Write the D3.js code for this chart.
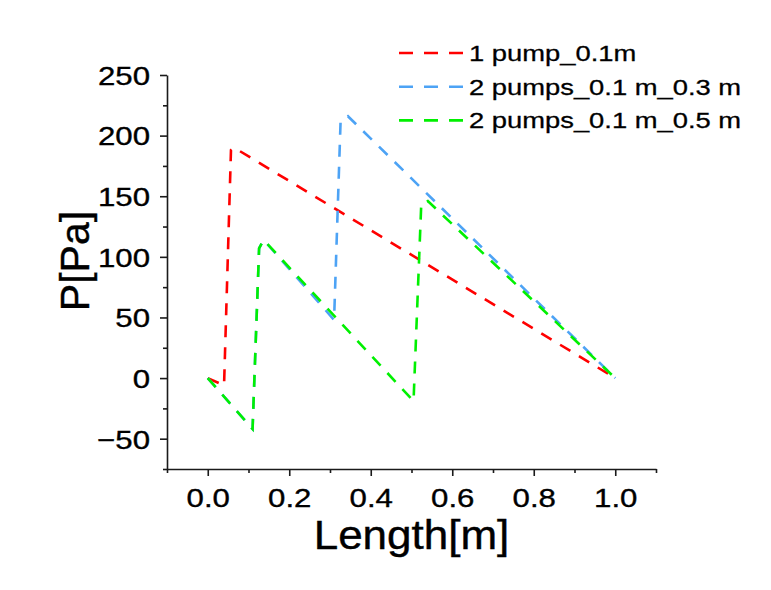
<!DOCTYPE html>
<html>
<head>
<meta charset="utf-8">
<script src="https://cdn.jsdelivr.net/npm/d3@7"></script>
<style>
    body { margin: 0; background: #fff; }
    text { font-family: "Liberation Sans", Arial, sans-serif; fill: #000; }
</style>
</head>
<body>
<div id="chart"></div>
<script>
'use strict';

// values
let redX = [0, 0.04, 0.057, 0.065, 1.0];
let redY = [0, -6, 188, 190, 0];

let blueX = [0, 0.11, 0.126, 0.137, 0.31, 0.326, 0.344, 1.0];
let blueY = [0, -42, 107, 114, 48, 212, 216, 0];

let greenX = [0, 0.11, 0.126, 0.137, 0.505, 0.524, 0.54, 1.0];
let greenY = [0, -42, 107, 114, -19, 144, 146, 0];

let seriesNames = ["1 pump_0.1m", "2 pumps_0.1 m_0.3 m", "2 pumps_0.1 m_0.5 m"];
let seriesColors = ["#ff0000", "#4da3f5", "#00f000"];

let xTicks = [0, 0.2, 0.4, 0.6, 0.8, 1.0];
let xMinorTicks = [-0.1, 0.1, 0.3, 0.5, 0.7, 0.9, 1.1];
let yTicks = [-50, 0, 50, 100, 150, 200, 250];
let yMinorTicks = [-75, -25, 25, 75, 125, 175, 225];

let xTitle = "Length[m]";
let yTitle = "P[Pa]";

let margin = { top: 75, right: 115, bottom: 121, left: 167 },
    width = 771 - margin.left - margin.right,
    height = 590 - margin.top - margin.bottom;

let stretch = "scale(1.2,1)";

let svg = d3.select("#chart").append("svg")
    .attr("width", 771)
    .attr("height", 590)
    .append("g")
    .attr("transform", "translate(" + margin.left + "," + margin.top + ")");

let x = d3.scaleLinear().domain([-0.1, 1.1]).range([0, width]);
let y = d3.scaleLinear().domain([-75, 250]).range([height, 0]);

function zip(xs, ys) {
    return xs.map((v, i) => ({ x: v, y: ys[i] }));
}

let series = [zip(redX, redY), zip(blueX, blueY), zip(greenX, greenY)];

// minor ticks first, then the labelled axis on top
svg.append("g")
    .attr("class", "x minor")
    .attr("transform", "translate(0," + height + ")")
    .call(d3.axisBottom(x).tickValues(xMinorTicks).tickSize(4).tickFormat(""));

svg.append("g")
    .attr("class", "y minor")
    .call(d3.axisLeft(y).tickValues(yMinorTicks).tickSize(4).tickFormat(""));

let xAxis = svg.append("g")
    .attr("class", "x axis")
    .attr("transform", "translate(0," + height + ")")
    .call(d3.axisBottom(x).tickValues(xTicks).tickSize(7).tickSizeOuter(0).tickFormat(d3.format(".1f")));

xAxis.selectAll("text")
    .attr("y", null)
    .attr("dy", null)
    .attr("transform", "translate(0,38) " + stretch)
    .style("font-size", "26px");

let yAxis = svg.append("g")
    .attr("class", "y axis")
    .call(d3.axisLeft(y).tickValues(yTicks).tickSize(7).tickSizeOuter(0).tickFormat(d3.format("d")));

yAxis.selectAll("text")
    .attr("x", null)
    .attr("dy", "0.36em")
    .attr("transform", "translate(-17,0) " + stretch)
    .style("font-size", "26px");

svg.selectAll(".axis text")
    .attr("stroke", "#000")
    .attr("stroke-width", 0.35);

svg.selectAll(".axis path, .minor path, .axis line, .minor line")
    .attr("stroke", "#1a1a1a")
    .attr("stroke-width", 1.6);
svg.selectAll(".minor path").remove();

let line = d3.line()
    .x(d => x(d.x))
    .y(d => y(d.y));

svg.selectAll(".series")
    .data(series)
    .enter().append("path")
    .attr("class", "series")
    .attr("d", line)
    .attr("fill", "none")
    .attr("stroke", (d, i) => seriesColors[i])
    .attr("stroke-width", 2.6)
    .attr("stroke-dasharray", "12,10");

// axis titles
svg.append("text")
    .attr("text-anchor", "middle")
    .attr("transform", "translate(" + (width / 2) + "," + (height + 80) + ") scale(1.1,1)")
    .attr("stroke", "#000")
    .attr("stroke-width", 0.4)
    .style("font-size", "40px")
    .text(xTitle);

svg.append("text")
    .attr("text-anchor", "middle")
    .attr("transform", "translate(-78,186) rotate(-90)")
    .attr("stroke", "#000")
    .attr("stroke-width", 0.4)
    .style("font-size", "41px")
    .text(yTitle);

// legend
let legend = svg.append("g")
    .attr("transform", "translate(232,-22)");

let rows = legend.selectAll(".row")
    .data(seriesNames)
    .enter().append("g")
    .attr("class", "row")
    .attr("transform", (d, i) => "translate(0," + (i * 33.7) + ")");

rows.append("line")
    .attr("x1", 0)
    .attr("x2", 64)
    .attr("y1", 0)
    .attr("y2", 0)
    .attr("stroke", (d, i) => seriesColors[i])
    .attr("stroke-width", 2.6)
    .attr("stroke-dasharray", "14,11");

rows.append("text")
    .attr("transform", "translate(70,8) " + stretch)
    .attr("stroke", "#000")
    .attr("stroke-width", 0.3)
    .style("font-size", "22.8px")
    .text(d => d);
</script>
</body>
</html>
